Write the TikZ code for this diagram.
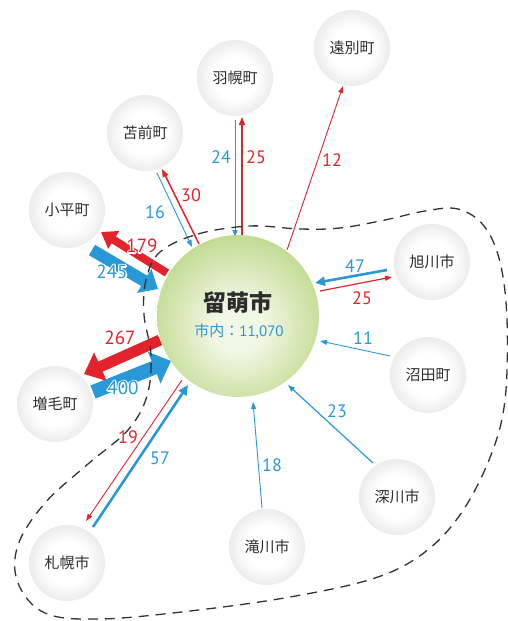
\documentclass[tikz,border=0pt]{standalone}
\usepackage{fontspec}
\setmainfont{PT Sans}
\newfontfamily\jp{Noto Sans CJK JP}
\usetikzlibrary{arrows.meta}
\definecolor{cred}{RGB}{227,35,43}
\definecolor{cblue}{RGB}{40,152,214}
\definecolor{txt}{RGB}{45,45,45}
\definecolor{dashc}{RGB}{50,50,50}
\definecolor{gin}{RGB}{242,246,228}
\definecolor{gout}{RGB}{136,189,52}
\definecolor{grin}{RGB}{255,255,255}
\definecolor{grout}{RGB}{192,193,197}
\pgfdeclareradialshading{greenball}{\pgfpoint{0bp}{-4bp}}{color(0bp)=(gin); color(8bp)=(gin); color(50bp)=(gout); color(75bp)=(gout)}
\pgfdeclareradialshading{grayball}{\pgfpoint{0bp}{0bp}}{color(0bp)=(grin); color(14bp)=(grin); color(50bp)=(grout); color(75bp)=(grout)}
\newcommand\halotxt[2]{\rlap{\color{white}\special{pdf:literal direct 1 Tr 2.8 w 1 J 1 j}#2\special{pdf:literal direct 0 Tr}}{\color{#1}#2}}
\begin{document}
\begin{tikzpicture}[x=1pt,y=-1pt,
  town/.style={circle, shading=grayball, minimum size=76pt, inner sep=0pt,
    font=\jp\fontsize{15}{15}\selectfont, text=txt},
  lbl/.style={inner sep=0pt, font=\fontsize{18}{18}\selectfont},
  biglbl/.style={inner sep=0pt, font=\fontsize{19}{19}\selectfont},
  thin/.style={line width=0.9pt, -{Triangle[length=7pt,width=5pt]}},
  mid/.style={line width=1.5pt, -{Triangle[length=8pt,width=6pt]}},
  heavy/.style={line width=2.6pt, -{Triangle[length=10pt,width=9pt]}},
  ]
\useasboundingbox (0,0) rectangle (508,621);

% towns
\node[town] (enbetsu) at (352,48) {遠別町};
\node[town] (haboro) at (235,78) {羽幌町};
\node[town] (tomamae) at (145,133) {苫前町};
\node[town] (obira) at (67,210) {小平町};
\node[town] (mashike) at (55,404) {増毛町};
\node[town] (sapporo) at (67,563) {札幌市};
\node[town] (takikawa) at (267,547) {滝川市};
\node[town] (fukagawa) at (397,497) {深川市};
\node[town] (numata) at (428,375) {沼田町};
\node[town] (asahikawa) at (432,262) {旭川市};

% arrow end points
\coordinate (e1) at (287,250); \coordinate (e2) at (343,86);
\coordinate (h1) at (235,120); \coordinate (h2) at (235,237);
\coordinate (h3) at (242,237); \coordinate (h4) at (242,117);
\coordinate (t1) at (157,173); \coordinate (t2) at (192,247);
\coordinate (t3) at (199,244); \coordinate (t4) at (162,169);
\coordinate (o1) at (167,273); \coordinate (o2) at (101,232);
\coordinate (o3) at (92,250); \coordinate (o4) at (158,289);
\coordinate (m1) at (160,340); \coordinate (m2) at (84,374);
\coordinate (m3) at (93,392); \coordinate (m4) at (171,361);
\coordinate (s1) at (182,380); \coordinate (s2) at (86,521);
\coordinate (s3) at (93,527); \coordinate (s4) at (188,385);
\coordinate (k1) at (262,508); \coordinate (k2) at (253,402);
\coordinate (f1) at (373,463); \coordinate (f2) at (288,385);
\coordinate (n1) at (390,356); \coordinate (n2) at (320,341);
\coordinate (a1) at (387,270); \coordinate (a2) at (315,283);
\coordinate (a3) at (320,291); \coordinate (a4) at (392,277);

% thin / medium arrows
\draw[thin, cred] (e1) -- (e2);
\draw[thin, cblue] (h1) -- (h2);
\draw[mid, cred] (h3) -- (h4);
\draw[thin, cblue] (t1) -- (t2);
\draw[mid, cred] (t3) -- (t4);
\draw[thin, cred] (s1) -- (s2);
\draw[heavy, cblue] (s3) -- (s4);
\draw[thin, cblue] (k1) -- (k2);
\draw[thin, cblue, line width=1.2pt] (f1) -- (f2);
\draw[thin, cblue] (n1) -- (n2);
\draw[heavy, cblue] (a1) -- (a2);
\draw[thin, cred, line width=1.2pt] (a3) -- (a4);

% thick arrows
\draw[cred, line width=8pt, -{Triangle[length=15pt,width=20pt]}] (o1) -- (o2);
\draw[cblue, line width=12pt, -{Triangle[length=16pt,width=27pt]}] (o3) -- (o4);
\draw[cred, line width=11pt, -{Triangle[length=18pt,width=30pt]}] (m1) -- (m2);
\draw[cblue, line width=14pt, -{Triangle[length=18pt,width=33pt]}] (m3) -- (m4);

% dashed boundary
\draw[dashc, line width=1.3pt, dash pattern=on 10pt off 7pt]
  plot[smooth cycle, tension=0.6] coordinates {
  (160,252) (198,234) (250,226) (300,229) (340,228) (385,220) (425,211) (458,209)
  (484,226) (500,262) (507,320) (505,400) (491,455) (462,512) (425,552) (375,578)
  (290,597) (190,611) (100,619) (45,613) (18,583) (18,545) (45,503) (88,464)
  (128,430) (147,396) (151,355) (144,315) (146,280)};

% center
\node[circle, shading=greenball, minimum size=162pt, inner sep=0pt] (rumoi) at (238,316) {};
\node[inner sep=0pt, text=txt, font=\jp\bfseries\fontsize{23}{23}\selectfont] (rumoit) at (238,303) {留萌市};
\node[inner sep=0pt, text=cblue, font=\fontsize{15}{15}\selectfont] (rumoin) at (239,331) {{\jp 市内：}11,070};

% labels
\node[lbl, text=cred] (l12) at (332,160) {12};
\node[lbl, text=cblue] (l24) at (221,157) {24};
\node[lbl, text=cred] (l25a) at (256,157) {25};
\node[lbl, text=cblue] (l16) at (155,212) {16};
\node[lbl, text=cred] (l30) at (191,195) {30};
\node[biglbl] (l179) at (142,246) {\halotxt{cred}{179}};
\node[biglbl] (l245) at (112,272) {\halotxt{cblue}{245}};
\node[biglbl] (l267) at (120,338) {\halotxt{cred}{267}};
\node[biglbl] (l400) at (123,388) {\halotxt{cblue}{400}};
\node[lbl, text=cred] (l19) at (128,437) {19};
\node[lbl, text=cblue] (l57) at (160,458) {57};
\node[lbl, text=cblue] (l18) at (272,465) {18};
\node[lbl, text=cblue] (l23) at (337,411) {23};
\node[lbl, text=cblue] (l11) at (363,338) {11};
\node[lbl, text=cblue] (l47) at (355,266) {47};
\node[lbl, text=cred] (l25b) at (362,298) {25};
\end{tikzpicture}
\end{document}
